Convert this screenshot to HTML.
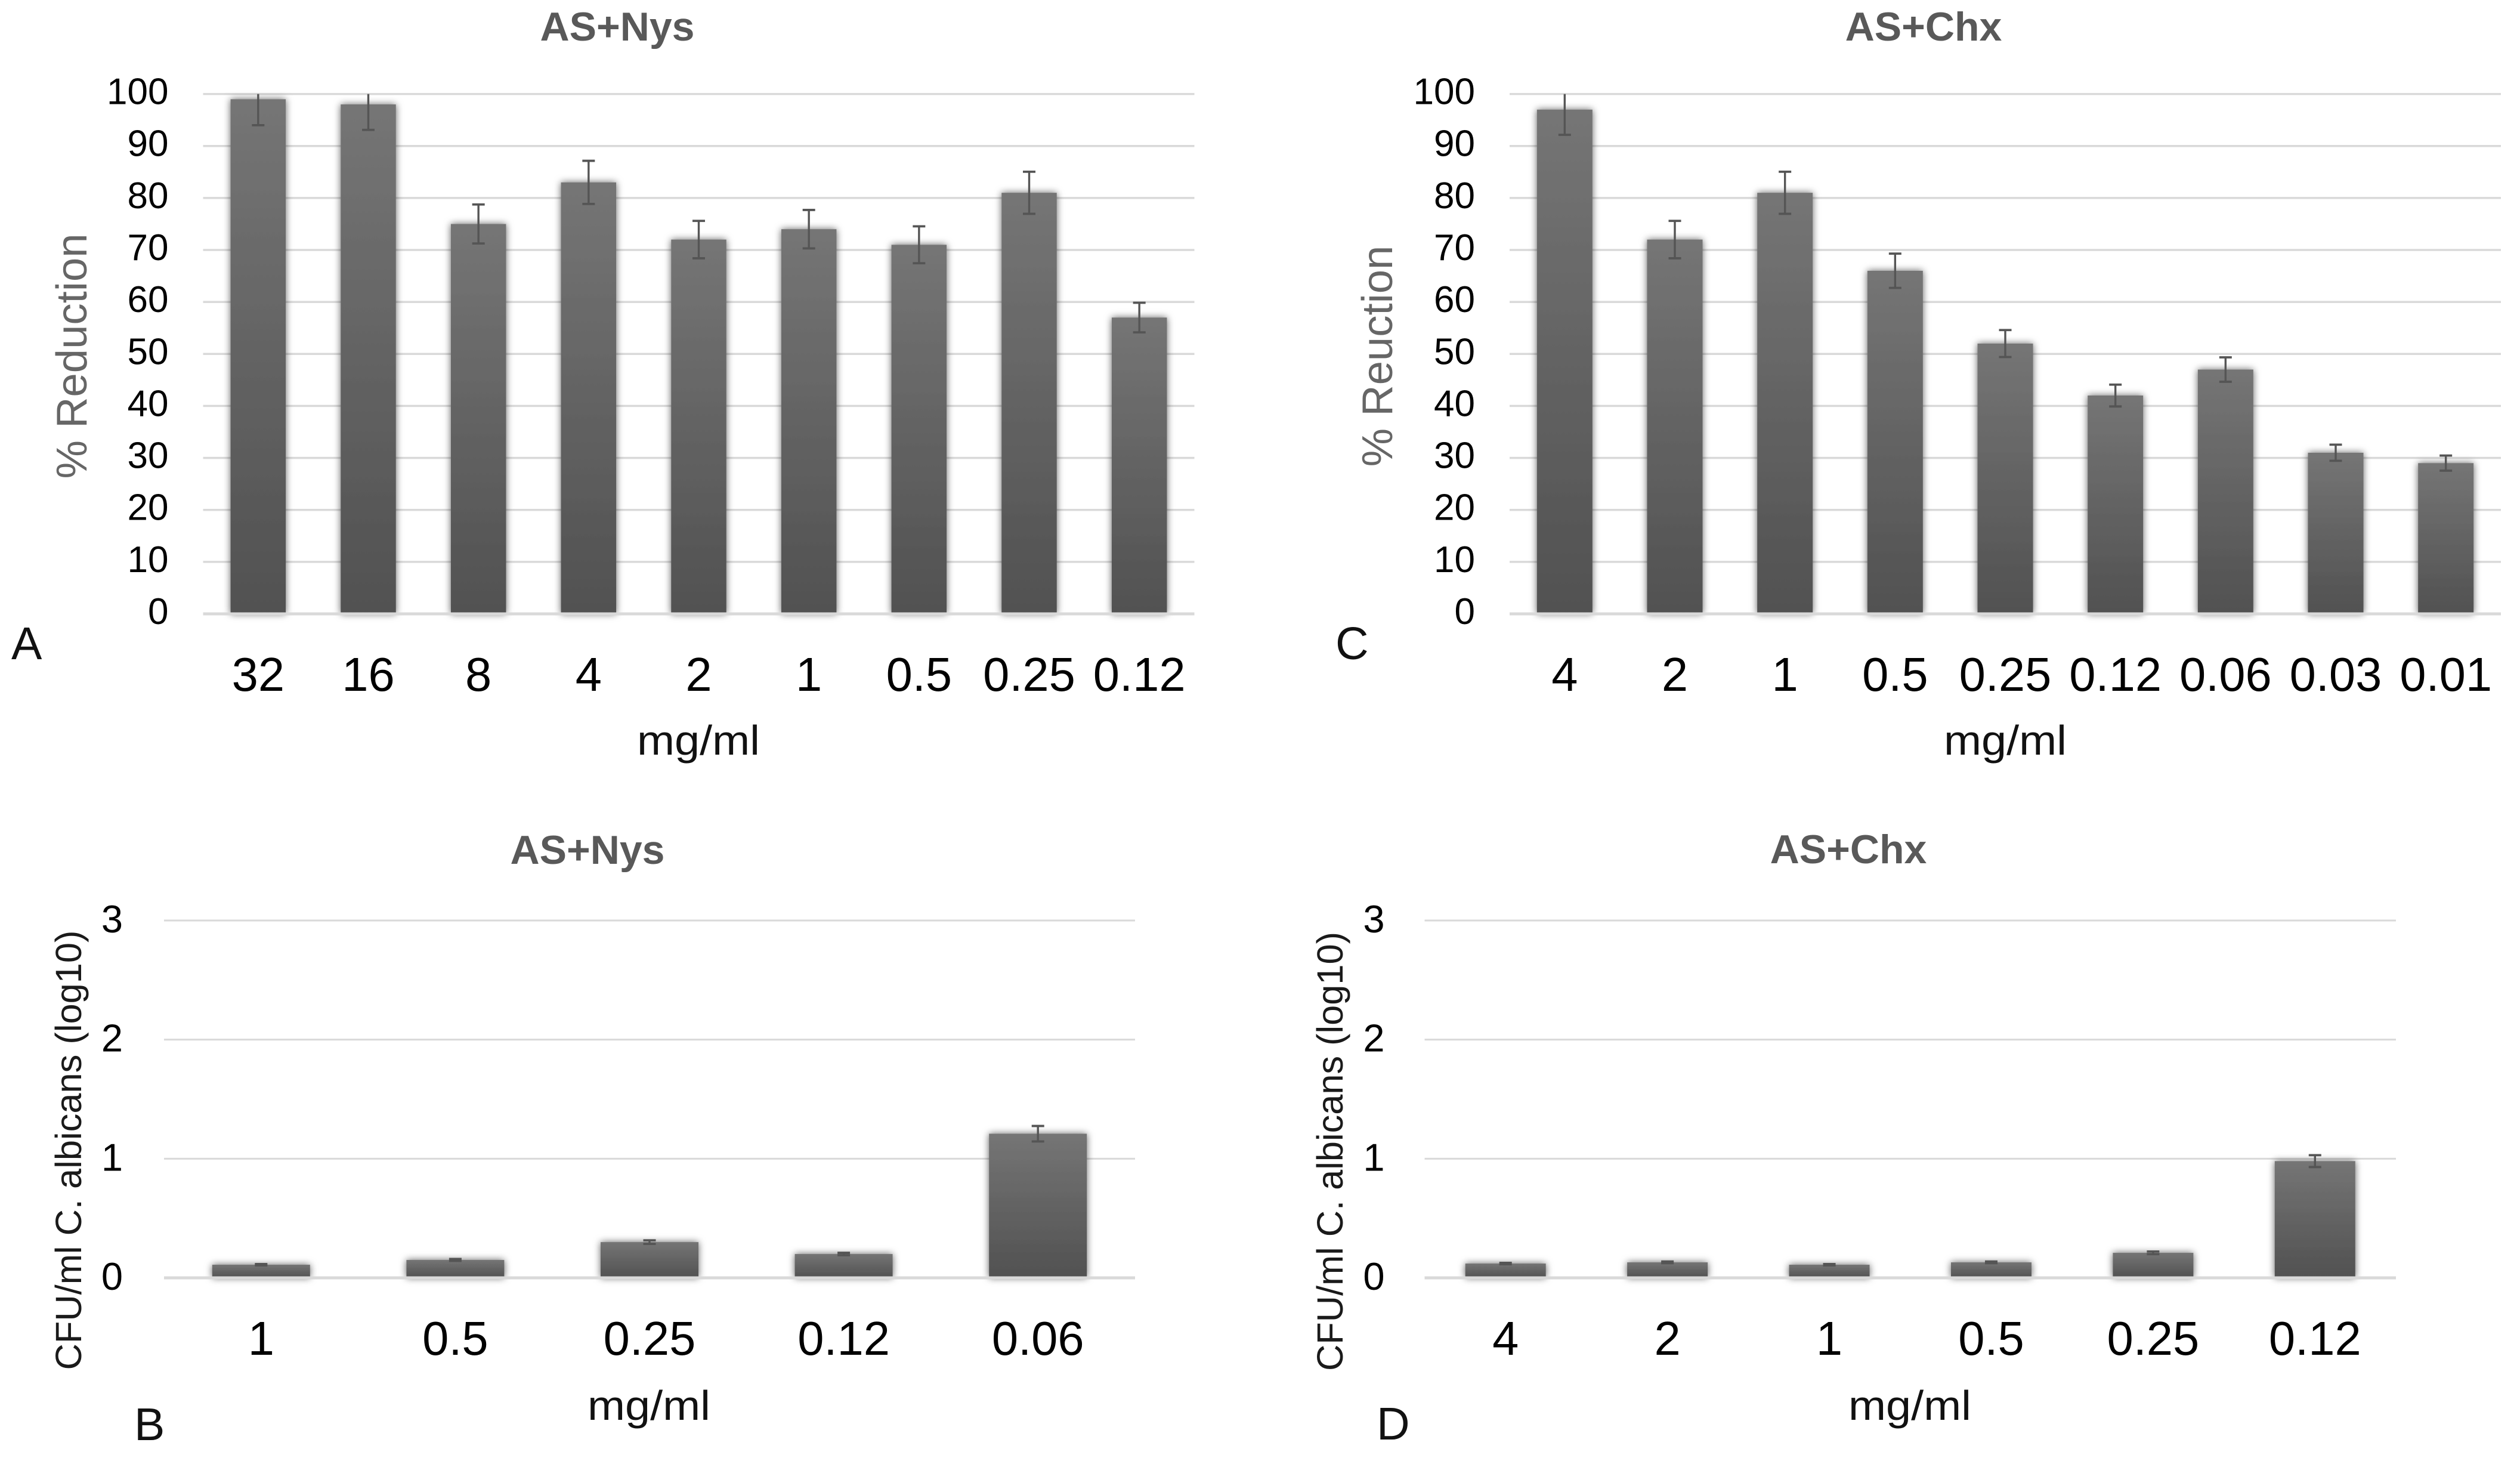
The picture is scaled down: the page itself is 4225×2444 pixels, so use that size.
<!DOCTYPE html>
<html lang="en">
<head>
<meta charset="utf-8">
<title>AS+Nys and AS+Chx bar charts</title>
<style>
html,body{margin:0;padding:0;background:#fff;}
svg{display:block;font-family:"Liberation Sans",Arial,sans-serif;}
.title{font-size:68px;font-weight:bold;fill:#595959;text-anchor:middle;}
.ytitle-grey{font-size:72.5px;fill:#666;text-anchor:middle;}
.ytitle-dark{font-size:61px;fill:#1a1a1a;text-anchor:middle;}
.xtitle{font-size:70px;fill:#111;text-anchor:middle;}
.letter{font-size:77px;fill:#111;}
</style>
</head>
<body>
<svg id="figure" xmlns="http://www.w3.org/2000/svg" width="4225" height="2444" viewBox="0 0 4225 2444">
  <defs>
    <linearGradient id="barFill" x1="0" y1="0" x2="0" y2="1">
      <stop offset="0" stop-color="#757575"/>
      <stop offset="1" stop-color="#515151"/>
    </linearGradient>
    <filter id="barShadow" filterUnits="userSpaceOnUse" x="0" y="0" width="4225" height="2444">
      <feGaussianBlur in="SourceAlpha" stdDeviation="6" result="b"/>
      <feFlood flood-color="#000" flood-opacity="0.62"/>
      <feComposite in2="b" operator="in" result="s"/>
      <feMerge><feMergeNode in="s"/><feMergeNode in="SourceGraphic"/></feMerge>
    </filter>
  </defs>
  <rect x="0" y="0" width="4225" height="2444" fill="#fff"/>

  <text class="title" x="1035" y="68">AS+Nys</text>
  <text class="title" x="3225" y="68">AS+Chx</text>
  <text class="title" x="985" y="1448">AS+Nys</text>
  <text class="title" x="3099" y="1447">AS+Chx</text>

  <text class="ytitle-grey" transform="translate(145 597) rotate(-90)">% Reduction</text>
  <text class="ytitle-grey" transform="translate(2334 597) rotate(-90)">% Reuction</text>
  <text class="ytitle-dark" transform="translate(136 1928) rotate(-90)" textLength="737" lengthAdjust="spacingAndGlyphs">CFU/ml C. albicans (log10)</text>
  <text class="ytitle-dark" transform="translate(2251 1930) rotate(-90)" textLength="736" lengthAdjust="spacingAndGlyphs">CFU/ml C. albicans (log10)</text>

  <text class="xtitle" x="1171" y="1265" textLength="206" lengthAdjust="spacingAndGlyphs">mg/ml</text>
  <text class="xtitle" x="3362" y="1265" textLength="206" lengthAdjust="spacingAndGlyphs">mg/ml</text>
  <text class="xtitle" x="1088" y="2380" textLength="206" lengthAdjust="spacingAndGlyphs">mg/ml</text>
  <text class="xtitle" x="3202" y="2380" textLength="206" lengthAdjust="spacingAndGlyphs">mg/ml</text>

  <text class="letter" x="19" y="1105">A</text>
  <text class="letter" x="2239" y="1105">C</text>
  <text class="letter" x="225" y="2414">B</text>
  <text class="letter" x="2308" y="2413">D</text>

  <g id="plots"></g>
</svg>
<script>
// Panel A: AS+Nys % reduction
var categoriesA = ["32","16","8","4","2","1","0.5","0.25","0.12"];
var valuesA = [99,98,75,83,72,74,71,81,57];
var errorsA = [5,4.9,3.75,4.15,3.6,3.7,3.55,4.05,2.85];

// Panel C: AS+Chx % reduction
var categoriesC = ["4","2","1","0.5","0.25","0.12","0.06","0.03","0.01"];
var valuesC = [97,72,81,66,52,42,47,31,29];
var errorsC = [4.85,3.6,4.05,3.3,2.6,2.1,2.35,1.55,1.45];

// Panel B: AS+Nys CFU/ml
var categoriesB = ["1","0.5","0.25","0.12","0.06"];
var valuesB = [0.11,0.15,0.30,0.20,1.21];
var errorsB = [0.006,0.008,0.015,0.01,0.065];

// Panel D: AS+Chx CFU/ml
var categoriesD = ["4","2","1","0.5","0.25","0.12"];
var valuesD = [0.12,0.13,0.11,0.13,0.21,0.98];
var errorsD = [0.006,0.007,0.006,0.007,0.011,0.05];

// Tick labels
var ticksPercent = [0,10,20,30,40,50,60,70,80,90,100];
var ticksLog = [0,1,2,3];

var SVGNS = "http://www.w3.org/2000/svg";
var root = document.getElementById("plots");

function make(tag, parent, attrs, text) {
  var el = document.createElementNS(SVGNS, tag);
  for (var k in attrs) { el.setAttribute(k, attrs[k]); }
  if (text !== undefined) { el.textContent = text; }
  parent.appendChild(el);
  return el;
}

function drawPanel(cfg) {
  var n = cfg.categories.length;
  var yMax = cfg.ticks[cfg.ticks.length - 1];
  var yScale = function (v) { return cfg.y0 - (v / yMax) * (cfg.y0 - cfg.yTop); };
  var xBand = (cfg.right - cfg.left) / n;
  var xScale = function (i) { return cfg.left + xBand * (i + 0.5); };

  var group = make("g", root, {});
  
  

  cfg.ticks.forEach(function (t) {
    if (t !== 0) {
      var grid = make("rect", group, {x: cfg.left, y: yScale(t) - cfg.gridW / 2, width: cfg.right - cfg.left, height: cfg.gridW, fill: "#d9d9d9"});
      
      
    }
    var label = make("text", group, {x: cfg.left - cfg.tickGap, y: yScale(t) + cfg.tickDy, "text-anchor": "end", "font-size": cfg.tickSize, fill: "#000"}, String(t));
    
    
  });

  var barsGroup = make("g", group, {filter: "url(#barShadow)"});
  
  

  cfg.values.forEach(function (v, i) {
    var top = yScale(v);
    var bar = make("rect", barsGroup, {x: xScale(i) - cfg.barW / 2, y: top, width: cfg.barW, height: cfg.y0 - top, fill: "url(#barFill)"});
    
    
  });

  var axis = make("rect", group, {x: cfg.left, y: cfg.y0 - 2.5, width: cfg.right - cfg.left, height: 5, fill: "#d9d9d9"});
  
  

  cfg.values.forEach(function (v, i) {
    var cx = xScale(i);
    var hi = yScale(Math.min(v + cfg.errors[i], yMax));
    var clipped = v + cfg.errors[i] >= yMax;
    var lo = yScale(v - cfg.errors[i]);
    var stem = make("line", group, {x1: cx, x2: cx, y1: hi, y2: lo, stroke: "#555", "stroke-width": 3.4});
    
    
    var capLo = make("line", group, {x1: cx - 10.5, x2: cx + 10.5, y1: lo, y2: lo, stroke: "#555", "stroke-width": 3.8});
    
    
    if (!clipped) {
      var capHi = make("line", group, {x1: cx - 10.5, x2: cx + 10.5, y1: hi, y2: hi, stroke: "#555", "stroke-width": 3.8});
      
      
    }
  });

  cfg.categories.forEach(function (c, i) {
    var label = make("text", group, {x: xScale(i), y: cfg.xTickY, "text-anchor": "middle", "font-size": 79.5, fill: "#000"}, c);
    
    
  });
}

drawPanel({categories: categoriesA, values: valuesA, errors: errorsA, ticks: ticksPercent,
  left: 340.5, right: 2002.5, y0: 1029, yTop: 157.6, barW: 92.5, gridW: 3.5,
  tickGap: 58, tickDy: 17, tickSize: 62, xTickY: 1158});
drawPanel({categories: categoriesC, values: valuesC, errors: errorsC, ticks: ticksPercent,
  left: 2531, right: 4193, y0: 1029, yTop: 157.6, barW: 93, gridW: 3.5,
  tickGap: 58, tickDy: 17, tickSize: 62, xTickY: 1158});
drawPanel({categories: categoriesB, values: valuesB, errors: errorsB, ticks: ticksLog,
  left: 275, right: 1903, y0: 2142, yTop: 1543, barW: 164, gridW: 3,
  tickGap: 69, tickDy: 20, tickSize: 65, xTickY: 2271});
drawPanel({categories: categoriesD, values: valuesD, errors: errorsD, ticks: ticksLog,
  left: 2388.5, right: 4017, y0: 2142, yTop: 1543, barW: 135, gridW: 3,
  tickGap: 67, tickDy: 20, tickSize: 65, xTickY: 2271});
</script>
</body>
</html>
